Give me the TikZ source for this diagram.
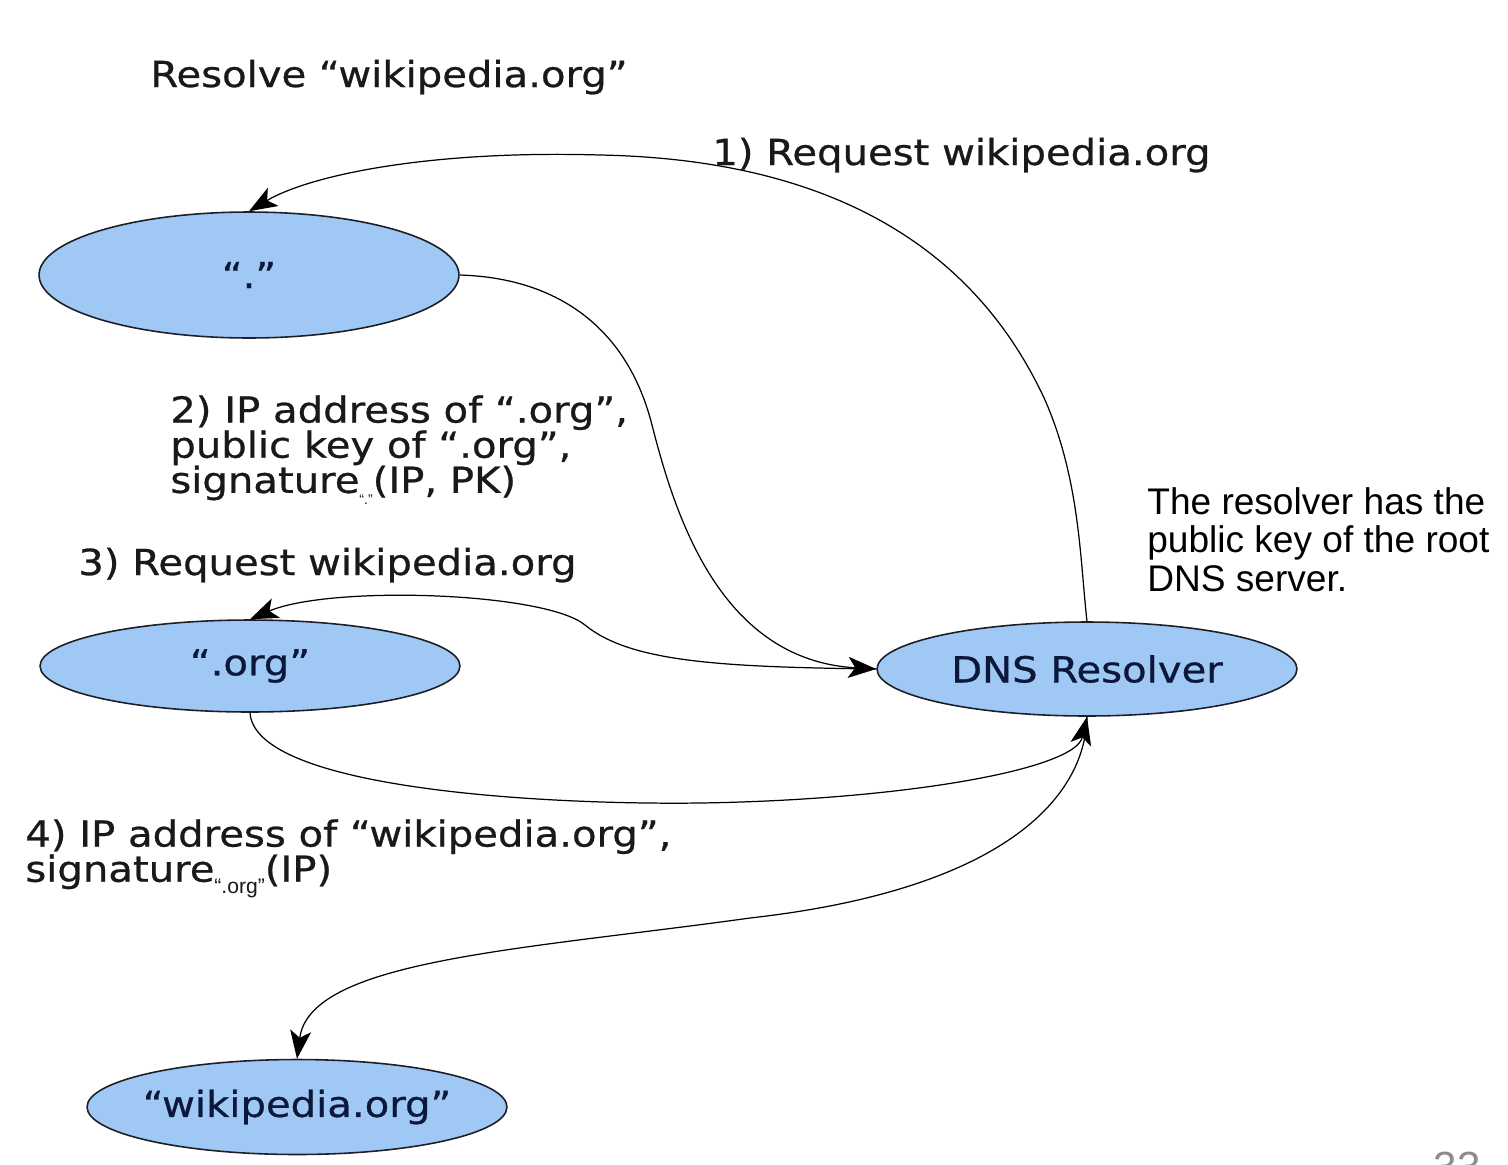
\documentclass[tikz,border=0pt]{standalone}
\usepackage{fontspec}
\usetikzlibrary{shapes.geometric,arrows.meta}
\setmainfont{DejaVu Sans}
\newfontfamily\widefont[FakeStretch=1.12,FakeBold=0.7]{DejaVu Sans}
\newfontfamily\arialfont{Liberation Sans}
\definecolor{nodefill}{RGB}{160,200,245}
\definecolor{nodetext}{RGB}{12,24,58}
\definecolor{labeltext}{RGB}{25,25,25}
\definecolor{pagegrey}{RGB}{140,140,140}
\tikzset{
  server/.style={ellipse, draw={rgb,255:red,30;green,30;blue,40}, line width=0.9pt, fill=nodefill,
    minimum width=8.4cm, inner sep=0pt, text=nodetext,
    font=\widefont\fontsize{20.4pt}{20.4pt}\selectfont},
  lbl/.style={inner sep=0pt, align=left, text=labeltext,
    font=\widefont\fontsize{20.4pt}{20pt}\selectfont},
  note/.style={inner sep=0pt, align=left, text=black,
    font=\arialfont\fontsize{21.1pt}{22pt}\selectfont},
  conn/.style={draw=black, line width=0.7pt, -{Stealth[length=16pt,width=12pt,inset=4pt]}}
}
\newcommand{\subq}[2]{\raisebox{-0.6ex}{\arialfont\fontsize{#1}{#1}\selectfont #2}}
\newcommand{\ztext}[1]{\makebox[0pt]{#1}}
\begin{document}
\begin{tikzpicture}[x=0.02cm,y=-0.02cm]
\useasboundingbox[fill=white] (0,0) rectangle (1508,1164);

% nodes
\node[server, minimum height=2.52cm] (root) at (249,275) {\ztext{“.”}};
\node[server, minimum height=1.84cm] (org) at (250,666) {\ztext{“.org”}};
\node[server, minimum height=1.88cm] (dns) at (1087,669) {\ztext{DNS Resolver}};
\node[server, minimum height=1.90cm] (wiki) at (297,1107) {\ztext{“wikipedia.org”}};

% labels
\node[lbl, anchor=base west] (title) at (150,87) {Resolve “wikipedia.org”};
\node[lbl, anchor=base west] (l1) at (712,165) {1) Request wikipedia.org};
\node[lbl, anchor=north west] (l2) at (170,395) {2) IP address of “.org”,\\public key of “.org”,\\signature\subq{8pt}{“.”}(IP, PK)};
\node[lbl, anchor=base west] (l3) at (78,575) {3) Request wikipedia.org};
\node[lbl, anchor=north west] (l4) at (25,819) {4) IP address of “wikipedia.org”,\\signature\subq{12pt}{“.org”}(IP)};
\node[note, anchor=north west] (n1) at (1147,487) {The resolver has the\\public key of the root\\DNS server.};
\node[inner sep=0pt, anchor=north, text=pagegrey, font=\arialfont\fontsize{24pt}{24pt}\selectfont] (page) at (1457,1152) {33};

% connectors
\draw[conn] (dns.north) .. controls (1080,560) and (1080,480) .. (1045,400)
  .. controls (985,270) and (860,160) .. (600,155)
  .. controls (430,150) and (310,175) .. (root.north);
\draw[conn] (root.east) .. controls (560,278) and (628,330) .. (652,425)
  .. controls (675,515) and (720,660) .. (dns.west);
\draw[conn] (dns.west) .. controls (720,667) and (630,662) .. (585,625)
  .. controls (545,592) and (330,585) .. (org.north);
\draw[conn] (org.south) .. controls (255,790) and (550,805) .. (700,803)
  .. controls (900,800) and (1075,770) .. (dns.south);
\draw[conn] (dns.south) .. controls (1085,800) and (1000,890) .. (750,918)
  .. controls (520,950) and (310,960) .. (wiki.north);
\end{tikzpicture}
\end{document}
